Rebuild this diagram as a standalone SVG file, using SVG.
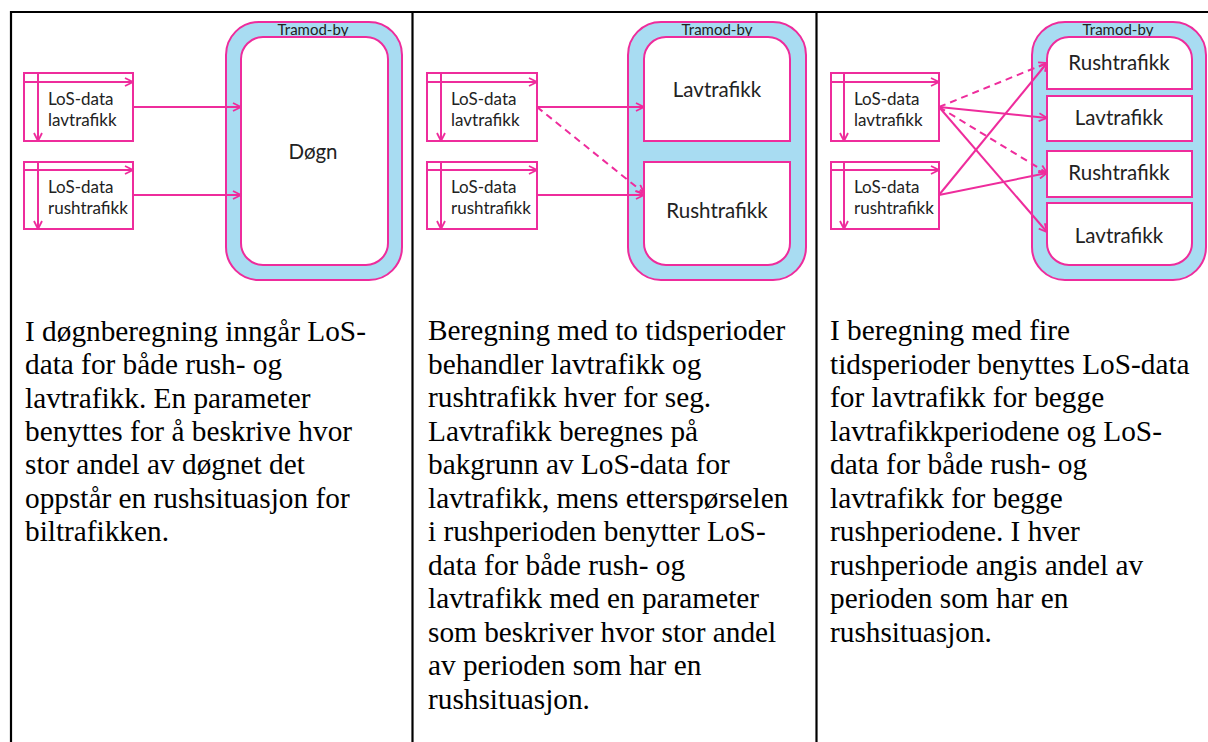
<svg xmlns="http://www.w3.org/2000/svg" width="1208" height="742" viewBox="0 0 1208 742">
<style>
.tbl{stroke:#000;stroke-width:2.2;fill:none}
.frame{fill:#A8DCF2;stroke:#EE2C9C;stroke-width:2}
.inner{fill:#fff;stroke:#EE2C9C;stroke-width:2}
.los{fill:#fff;stroke:#EE2C9C;stroke-width:2}
.ln{stroke:#EE2C9C;stroke-width:2;fill:none}
.dash{stroke:#EE2C9C;stroke-width:2;fill:none;stroke-dasharray:7 5}
.small{font-family:Lato,"Liberation Sans",sans-serif;font-size:17px;fill:#222}
.tram{font-family:Lato,"Liberation Sans",sans-serif;font-size:15px;fill:#222;text-anchor:middle}
.big{font-family:Lato,"Liberation Sans",sans-serif;font-size:20.5px;fill:#222;text-anchor:middle}
.body{font-family:"Liberation Serif","Times New Roman",serif;font-size:29.3px;fill:#000}
</style>
<defs>
<marker id="arr" viewBox="0 0 10 10" refX="9" refY="5" markerWidth="10" markerHeight="10" markerUnits="userSpaceOnUse" orient="auto">
<path d="M1,1 L9,5 L1,9" fill="none" stroke="#EE2C9C" stroke-width="1.8"/>
</marker>
</defs>

<g id="table">
<line class="tbl" x1="10" y1="12" x2="1208" y2="12"/>
<line class="tbl" x1="11" y1="11" x2="11" y2="742"/>
<line class="tbl" x1="412.5" y1="12" x2="412.5" y2="742"/>
<line class="tbl" x1="816.5" y1="12" x2="816.5" y2="742"/>
</g>

<!-- Panel 1 -->
<g id="p1-tramod">
<rect class="frame" x="226" y="22" width="176" height="258" rx="33"/>
<text class="tram" x="313" y="35">Tramod-by</text>
</g>
<g id="p1-dogn">
<rect class="inner" x="241" y="37" width="147" height="228" rx="22"/>
<text class="big" x="313" y="159">Døgn</text>
</g>
<g id="p1-los-lav">
<rect class="los" x="24" y="73" width="109" height="68"/>
<line class="ln" x1="24" y1="82" x2="133" y2="82" marker-end="url(#arr)"/>
<line class="ln" x1="38" y1="73" x2="38" y2="141" marker-end="url(#arr)"/>
<text class="small" x="48" y="105">LoS-data</text>
<text class="small" x="48" y="126">lavtrafikk</text>
</g>
<g id="p1-los-rush">
<rect class="los" x="24" y="162" width="109" height="67"/>
<line class="ln" x1="24" y1="170" x2="133" y2="170" marker-end="url(#arr)"/>
<line class="ln" x1="38" y1="162" x2="38" y2="229" marker-end="url(#arr)"/>
<text class="small" x="48" y="193">LoS-data</text>
<text class="small" x="48" y="214">rushtrafikk</text>
</g>

<!-- Panel 2 -->
<g id="p2-tramod">
<rect class="frame" x="628" y="22" width="178" height="258" rx="33"/>
<text class="tram" x="717" y="35">Tramod-by</text>
</g>
<g id="p2-lav">
<path class="inner" d="M644,141 V59 A22,22 0 0 1 666,37 H768 A22,22 0 0 1 790,59 V141 Z"/>
<text class="big" x="717" y="97">Lavtrafikk</text>
</g>
<g id="p2-rush">
<path class="inner" d="M644,162 H790 V243 A22,22 0 0 1 768,265 H666 A22,22 0 0 1 644,243 Z"/>
<text class="big" x="717" y="218">Rushtrafikk</text>
</g>
<g id="p2-los-lav">
<rect class="los" x="427" y="73" width="110" height="68"/>
<line class="ln" x1="427" y1="82" x2="537" y2="82" marker-end="url(#arr)"/>
<line class="ln" x1="441" y1="73" x2="441" y2="141" marker-end="url(#arr)"/>
<text class="small" x="451" y="105">LoS-data</text>
<text class="small" x="451" y="126">lavtrafikk</text>
</g>
<g id="p2-los-rush">
<rect class="los" x="427" y="162" width="110" height="67"/>
<line class="ln" x1="427" y1="170" x2="537" y2="170" marker-end="url(#arr)"/>
<line class="ln" x1="441" y1="162" x2="441" y2="229" marker-end="url(#arr)"/>
<text class="small" x="451" y="193">LoS-data</text>
<text class="small" x="451" y="214">rushtrafikk</text>
</g>

<!-- Panel 3 -->
<g id="p3-tramod">
<rect class="frame" x="1032" y="22" width="174" height="258" rx="33"/>
<text class="tram" x="1118" y="35">Tramod-by</text>
</g>
<g id="p3-rush1">
<path class="inner" d="M1047,89 V59 A22,22 0 0 1 1069,37 H1170 A22,22 0 0 1 1192,59 V89 Z"/>
<text class="big" x="1119" y="70">Rushtrafikk</text>
</g>
<g id="p3-lav1">
<rect class="inner" x="1047" y="96" width="145" height="45"/>
<text class="big" x="1119" y="125">Lavtrafikk</text>
</g>
<g id="p3-rush2">
<rect class="inner" x="1047" y="151" width="145" height="46"/>
<text class="big" x="1119" y="180">Rushtrafikk</text>
</g>
<g id="p3-lav2">
<path class="inner" d="M1047,203 H1192 V243 A22,22 0 0 1 1170,265 H1069 A22,22 0 0 1 1047,243 Z"/>
<text class="big" x="1119" y="243">Lavtrafikk</text>
</g>
<g id="p3-los-lav">
<rect class="los" x="831" y="73" width="108" height="68"/>
<line class="ln" x1="831" y1="82" x2="939" y2="82" marker-end="url(#arr)"/>
<line class="ln" x1="844" y1="73" x2="844" y2="141" marker-end="url(#arr)"/>
<text class="small" x="854" y="105">LoS-data</text>
<text class="small" x="854" y="126">lavtrafikk</text>
</g>
<g id="p3-los-rush">
<rect class="los" x="831" y="162" width="108" height="67"/>
<line class="ln" x1="831" y1="170" x2="939" y2="170" marker-end="url(#arr)"/>
<line class="ln" x1="844" y1="162" x2="844" y2="229" marker-end="url(#arr)"/>
<text class="small" x="854" y="193">LoS-data</text>
<text class="small" x="854" y="214">rushtrafikk</text>
</g>

<g id="connectors">
<line class="ln" x1="133" y1="107" x2="241" y2="107" marker-end="url(#arr)"/>
<line class="ln" x1="133" y1="195" x2="241" y2="195" marker-end="url(#arr)"/>
<line class="ln" x1="537" y1="107" x2="644" y2="107" marker-end="url(#arr)"/>
<line class="ln" x1="537" y1="195" x2="644" y2="195" marker-end="url(#arr)"/>
<line class="dash" x1="537" y1="107" x2="644" y2="193" marker-end="url(#arr)"/>
<line class="dash" x1="939" y1="107" x2="1047" y2="63" marker-end="url(#arr)"/>
<line class="ln" x1="939" y1="107" x2="1047" y2="118" marker-end="url(#arr)"/>
<line class="dash" x1="939" y1="107" x2="1047" y2="173" marker-end="url(#arr)"/>
<line class="ln" x1="939" y1="107" x2="1047" y2="232" marker-end="url(#arr)"/>
<line class="ln" x1="939" y1="195" x2="1047" y2="63" marker-end="url(#arr)"/>
<line class="ln" x1="939" y1="195" x2="1047" y2="173" marker-end="url(#arr)"/>
</g>

<g id="text1">
<text class="body" x="25" y="341">
<tspan x="25">I døgnberegning inngår LoS-</tspan>
<tspan x="25" dy="33.3">data for både rush- og</tspan>
<tspan x="25" dy="33.3">lavtrafikk. En parameter</tspan>
<tspan x="25" dy="33.3">benyttes for å beskrive hvor</tspan>
<tspan x="25" dy="33.3">stor andel av døgnet det</tspan>
<tspan x="25" dy="33.3">oppstår en rushsituasjon for</tspan>
<tspan x="25" dy="33.3">biltrafikken.</tspan>
</text>
</g>
<g id="text2">
<text class="body" x="428" y="340">
<tspan x="428">Beregning med to tidsperioder</tspan>
<tspan x="428" dy="33.5">behandler lavtrafikk og</tspan>
<tspan x="428" dy="33.5">rushtrafikk hver for seg.</tspan>
<tspan x="428" dy="33.5">Lavtrafikk beregnes på</tspan>
<tspan x="428" dy="33.5">bakgrunn av LoS-data for</tspan>
<tspan x="428" dy="33.5">lavtrafikk, mens etterspørselen</tspan>
<tspan x="428" dy="33.5">i rushperioden benytter LoS-</tspan>
<tspan x="428" dy="33.5">data for både rush- og</tspan>
<tspan x="428" dy="33.5">lavtrafikk med en parameter</tspan>
<tspan x="428" dy="33.5">som beskriver hvor stor andel</tspan>
<tspan x="428" dy="33.5">av perioden som har en</tspan>
<tspan x="428" dy="33.5">rushsituasjon.</tspan>
</text>
</g>
<g id="text3">
<text class="body" x="830" y="340">
<tspan x="830">I beregning med fire</tspan>
<tspan x="830" dy="33.5">tidsperioder benyttes LoS-data</tspan>
<tspan x="830" dy="33.5">for lavtrafikk for begge</tspan>
<tspan x="830" dy="33.5">lavtrafikkperiodene og LoS-</tspan>
<tspan x="830" dy="33.5">data for både rush- og</tspan>
<tspan x="830" dy="33.5">lavtrafikk for begge</tspan>
<tspan x="830" dy="33.5">rushperiodene. I hver</tspan>
<tspan x="830" dy="33.5">rushperiode angis andel av</tspan>
<tspan x="830" dy="33.5">perioden som har en</tspan>
<tspan x="830" dy="33.5">rushsituasjon.</tspan>
</text>
</g>
</svg>
